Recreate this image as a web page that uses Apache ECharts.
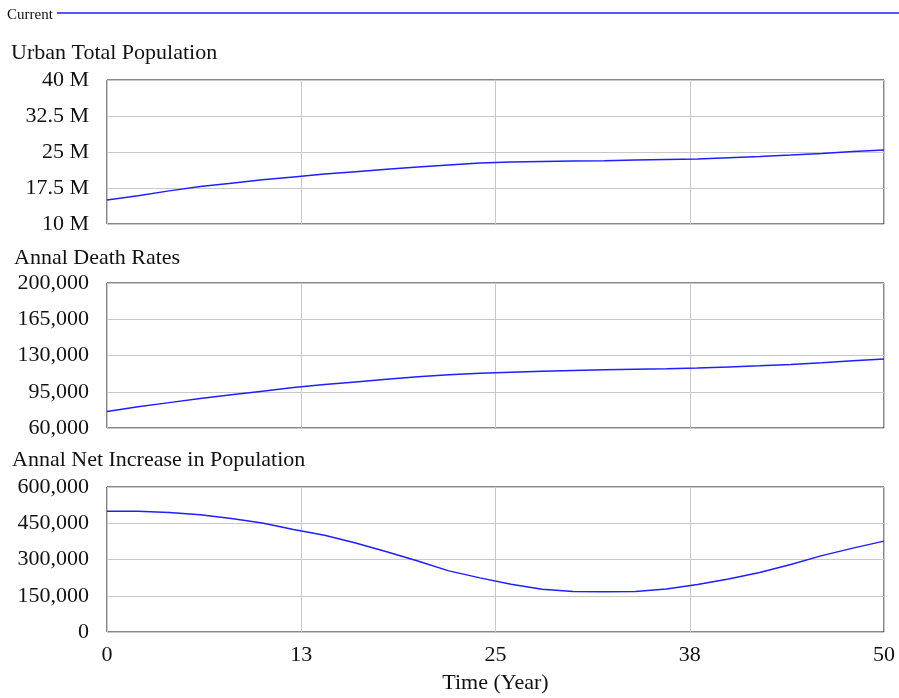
<!DOCTYPE html>
<html>
<head>
<meta charset="utf-8">
<script src="https://cdn.jsdelivr.net/npm/echarts@6/dist/echarts.min.js"></script>
<style>
html,body{margin:0;padding:0;background:#fff;}
#chart{width:899px;height:698px;}
</style>
</head>
<body>
<div id="chart"></div>
<script>
// Time (Year)
const years = [0,2,4,6,8,10,12,14,16,18,20,22,24,26,28,30,32,34,36,38,40,42,44,46,48,50];
// Urban Total Population (millions)
const urbanPopulationM = [15.0,15.9,16.9,17.8,18.5,19.2,19.8,20.4,20.9,21.4,21.9,22.3,22.7,22.9,23.0,23.1,23.2,23.35,23.45,23.55,23.8,24.05,24.35,24.7,25.1,25.4];
// Annal Death Rates
const deathRates = [76000,80500,84500,88500,92000,95500,99000,102000,104500,107000,109500,111500,112800,113800,114700,115500,116200,116800,117300,118000,119000,120000,121300,123000,125000,126600];
// Annal Net Increase in Population
const netIncrease = [500000,500000,494000,485000,470000,451000,424000,400000,368000,332000,294000,253000,224000,198000,177000,168000,167000,168000,178000,197000,219000,246000,279000,316000,347000,376000];

const xTicks = [0, 12.5, 25, 37.5, 50]; // shown rounded: 0, 13, 25, 38, 50
const panelTitles = ['Urban Total Population', 'Annal Death Rates', 'Annal Net Increase in Population'];
const legendName = 'Current';

const FONT = '"Liberation Serif", "Times New Roman", serif';
const BLUE = '#1f1fff';
const pair = arr => years.map((t, i) => [t, arr[i]]);
const fmtComma = v => Math.round(v).toLocaleString('en-US');

const grids = [
  {left: 107, top: 80, width: 777, height: 144},
  {left: 107, top: 283, width: 777, height: 145},
  {left: 107, top: 487, width: 777, height: 145}
].map(g => Object.assign(g, {show: true, borderColor: '#111', borderWidth: 1, backgroundColor: '#fff'}));

function xAxis(idx, showLabels) {
  return {
    type: 'value', gridIndex: idx, min: xTicks[0], max: xTicks[xTicks.length - 1], interval: xTicks[1] - xTicks[0],
    axisLine: {show: false}, axisTick: {show: false},
    splitLine: {show: true, lineStyle: {color: '#c8c8c8', width: 1}},
    axisLabel: {show: showLabels, formatter: v => String(Math.round(v)), color: '#111', fontFamily: FONT, fontSize: 22, margin: 12},
    name: showLabels ? 'Time (Year)' : '', nameLocation: 'middle', nameGap: 40,
    nameTextStyle: {color: '#111', fontFamily: FONT, fontSize: 22}
  };
}
function yAxis(idx, min, max, interval, fmt) {
  return {
    type: 'value', gridIndex: idx, min, max, interval,
    axisLine: {show: false}, axisTick: {show: false},
    splitLine: {show: true, lineStyle: {color: '#c8c8c8', width: 1}},
    axisLabel: {formatter: fmt, color: '#111', fontFamily: FONT, fontSize: 22, margin: 18, padding: [6, 0, 0, 0]}
  };
}

const titlePos = [{left: 11, top: 42}, {left: 14, top: 247}, {left: 12, top: 449}];

const chart = echarts.init(document.getElementById('chart'), null, {renderer: 'canvas'});
chart.setOption({
  animation: false,
  backgroundColor: '#fff',
  title: panelTitles.map((t, i) => ({
    text: t, left: titlePos[i].left, top: titlePos[i].top, padding: 0,
    textStyle: {fontFamily: FONT, fontSize: 22, fontWeight: 'normal', color: '#111'}
  })),
  grid: grids,
  xAxis: [xAxis(0, false), xAxis(1, false), xAxis(2, true)],
  yAxis: [
    yAxis(0, 10, 40, 7.5, v => v + ' M'),
    yAxis(1, 60000, 200000, 35000, fmtComma),
    yAxis(2, 0, 600000, 150000, fmtComma)
  ],
  graphic: [
    {type: 'text', left: 7, top: 8, style: {text: legendName, font: '15px ' + FONT, fill: '#111'}},
    {type: 'line', shape: {x1: 57, y1: 13, x2: 899, y2: 13}, style: {stroke: BLUE, lineWidth: 1.5}}
  ],
  series: [
    {type: 'line', name: legendName, xAxisIndex: 0, yAxisIndex: 0, data: pair(urbanPopulationM), showSymbol: false, lineStyle: {color: BLUE, width: 1.5}, itemStyle: {color: BLUE}},
    {type: 'line', name: legendName, xAxisIndex: 1, yAxisIndex: 1, data: pair(deathRates), showSymbol: false, lineStyle: {color: BLUE, width: 1.5}, itemStyle: {color: BLUE}},
    {type: 'line', name: legendName, xAxisIndex: 2, yAxisIndex: 2, data: pair(netIncrease), showSymbol: false, lineStyle: {color: BLUE, width: 1.5}, itemStyle: {color: BLUE}}
  ]
});
</script>
</body>
</html>
